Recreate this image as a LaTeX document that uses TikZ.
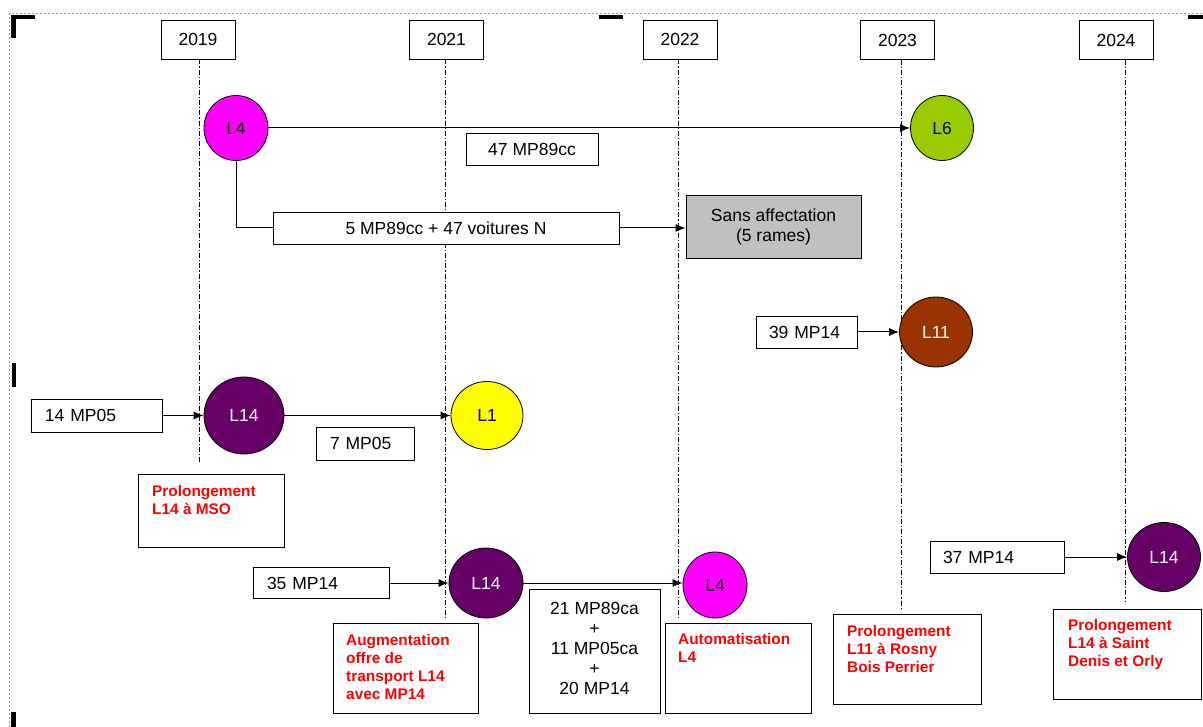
\documentclass[tikz,border=0pt]{standalone}
\usepackage{fontspec}
\setmainfont{Liberation Sans}
\usetikzlibrary{shapes.geometric,arrows.meta}
\definecolor{magL}{HTML}{FF00FF}
\definecolor{greenL}{HTML}{99CC00}
\definecolor{brownL}{HTML}{993300}
\definecolor{purpleL}{HTML}{660066}
\definecolor{yellowL}{HTML}{FFFF00}
\definecolor{grayfill}{HTML}{C0C0C0}
\definecolor{redT}{HTML}{FF0000}
\definecolor{bordC}{HTML}{8A9AB0}
\begin{document}
\begin{tikzpicture}[x=1pt,y=-1pt,
  every node/.style={font=\fontsize{17.5}{20}\selectfont},
  box/.style={draw=black,line width=0.8pt,fill=white,rectangle,inner sep=0pt},
  lbox/.style={box,align=left,inner xsep=14pt},
  cbox/.style={box,align=center},
  redtxt/.style={anchor=north west,inner sep=0pt,align=left,text=redT,font=\fontsize{15.4}{18}\selectfont\bfseries},
  line/.style={draw=black,ellipse,inner sep=0pt,line width=0.8pt},
  yearline/.style={line width=0.9pt,dash pattern=on 5pt off 2pt on 1.2pt off 2pt},
  arr/.style={line width=1pt,-{Latex[length=10pt,width=8pt]}},
  conn/.style={line width=1pt}]
\useasboundingbox (0,0) rectangle (1203,727);
\fill[white] (0,0) rectangle (1203,727);
% frame and handles
\draw[bordC,line width=0.6pt,dash pattern=on 2pt off 2pt] (9.5,727) -- (9.5,13.5) -- (1203,13.5);
\fill (11,15) rectangle (35,19);
\fill (11,15) rectangle (15.5,38);
\fill (599,15) rectangle (623,19);
\fill (1188,15) rectangle (1203,19);
\fill (11.5,363) rectangle (15.5,387);
\fill (11,712) rectangle (15.5,727);

% year boxes
\node[cbox,minimum width=74pt,minimum height=39pt] (y19) at (198,39.5) {2019};
\node[cbox,minimum width=74pt,minimum height=39pt] (y21) at (446.5,39.5) {2021};
\node[cbox,minimum width=74pt,minimum height=39pt] (y22) at (680,39.5) {2022};
\node[cbox,minimum width=74pt,minimum height=39pt] (y23) at (897.5,40) {2023};
\node[cbox,minimum width=74pt,minimum height=39pt] (y24) at (1116,40) {2024};
\coordinate (e19) at (199,462);
\coordinate (e21) at (445,618);
\coordinate (e22) at (678,620);
\coordinate (e23) at (901,608);
\coordinate (e24) at (1125,602);
\draw[yearline] (y19.south -| e19) -- (e19);
\draw[yearline] (y21.south -| e21) -- (e21);
\draw[yearline] (y22.south -| e22) -- (e22);
\draw[yearline] (y23.south -| e23) -- (e23);
\draw[yearline] (y24.south -| e24) -- (e24);

% circles
\node[line,fill=magL,minimum width=64pt,minimum height=65pt] (L4a) at (236,128) {L4};
\node[line,fill=greenL,minimum width=63pt,minimum height=65pt] (L6) at (942,128) {L6};
\node[line,fill=brownL,text=white,minimum width=73pt,minimum height=70pt] (L11) at (936,332) {L11};
\node[line,fill=purpleL,text=white,minimum width=80pt,minimum height=77pt] (L14a) at (244,415.5) {L14};
\node[line,fill=yellowL,minimum width=72pt,minimum height=68pt] (L1) at (487,415.5) {L1};
\node[line,fill=purpleL,text=white,minimum width=74pt,minimum height=70pt] (L14b) at (486,583) {L14};
\node[line,fill=magL,minimum width=64pt,minimum height=66pt] (L4b) at (715,585) {L4};
\node[line,fill=purpleL,text=white,minimum width=73pt,minimum height=69pt] (L14c) at (1164,557) {L14};

% quantity boxes
\node[cbox,minimum width=132pt,minimum height=32pt] (q47) at (532,149) {47 MP89cc};
\node[cbox,minimum width=346pt,minimum height=32pt] (q5) at (446,228) {5 MP89cc + 47 voitures N};
\node[cbox,fill=grayfill,minimum width=175pt,minimum height=63pt] (sans) at (773.5,226.5) {Sans affectation\\(5 rames)};
\node[lbox,text width=75pt,inner xsep=13pt,minimum height=32pt] (q39) at (806.5,332) {39 MP14};
\node[lbox,text width=103pt,minimum height=33pt] (q14) at (96.5,415.5) {14 MP05};
\node[lbox,text width=70pt,minimum height=33pt] (q7) at (365,443.5) {7 MP05};
\node[lbox,text width=108pt,minimum height=31pt] (q35) at (321,583) {35 MP14};
\node[lbox,text width=108pt,inner xsep=13pt,minimum height=32pt] (q37) at (997,557) {37 MP14};
\node[box,minimum width=131pt,minimum height=124pt] (qmix) at (594.5,651) {};
\node[align=center,inner sep=0pt] (qmixt) at (594.5,648) {21 MP89ca\\+\\11 MP05ca\\+\\20 MP14};

% event boxes
\node[box,minimum width=146pt,minimum height=73pt] (ev1) at (211,510.5) {};
\node[redtxt] (ev1t) at (152,485) {Prolongement\\L14 à MSO};
\node[box,minimum width=145pt,minimum height=90pt] (ev2) at (405.5,668) {};
\node[redtxt] (ev2t) at (346,634) {Augmentation\\offre de\\transport L14\\avec MP14};
\node[box,minimum width=146pt,minimum height=90pt] (ev3) at (738,668) {};
\node[redtxt] (ev3t) at (678,633) {Automatisation\\L4};
\node[box,minimum width=148pt,minimum height=90pt] (ev4) at (907,659) {};
\node[redtxt] (ev4t) at (847,625) {Prolongement\\L11 à Rosny\\Bois Perrier};
\node[box,minimum width=148pt,minimum height=90pt] (ev5) at (1127,654) {};
\node[redtxt] (ev5t) at (1068,619) {Prolongement\\L14 à Saint\\Denis et Orly};

% connectors
\draw[arr] (L4a) -- (L6);
\draw[conn] (L4a.south) |- (q5.west);
\draw[arr] (q5.east) -- (q5.east -| sans.west);
\draw[arr] (q39) -- (L11);
\draw[arr] (q14) -- (L14a);
\draw[arr] (L14a) -- (L1);
\draw[arr] (q35) -- (L14b);
\draw[arr] (L14b.east) -- (L14b.east -| L4b.west);
\draw[arr] (q37) -- (L14c);
\end{tikzpicture}
\end{document}
